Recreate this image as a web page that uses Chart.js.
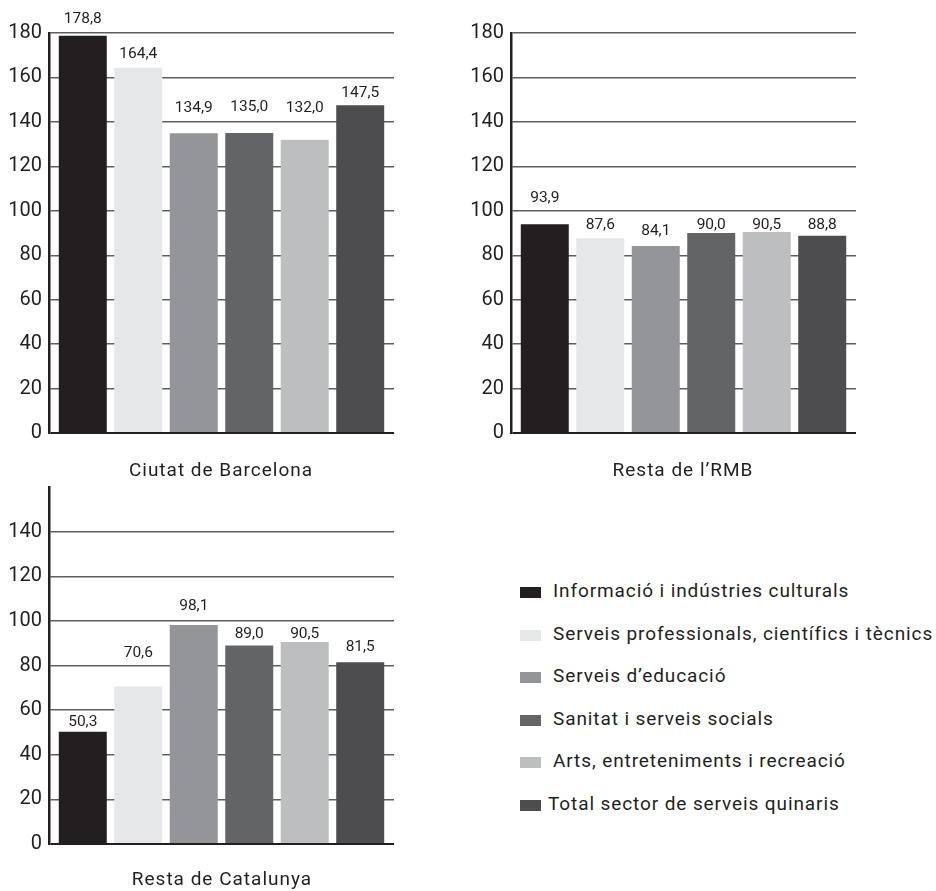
<!DOCTYPE html>
<html>
<head>
<meta charset="utf-8">
<script src="https://cdn.jsdelivr.net/npm/chart.js@4/dist/chart.umd.min.js"></script>
<style>
  html, body { margin: 0; padding: 0; background: #ffffff; }
  body { width: 936px; height: 891px; position: relative; overflow: hidden; font-family: Roboto, "Open Sans", sans-serif; color: #231f20; }
  .box { position: absolute; }
  .title { position: absolute; font-size: 19px; letter-spacing: 1px; color: #231f20; transform: translateX(-50%); white-space: nowrap; line-height: 1; }
  .leg { position: absolute; font-size: 19px; letter-spacing: 0.9px; color: #231f20; white-space: nowrap; line-height: 1; }
  .sw { position: absolute; width: 21px; height: 11px; }
</style>
</head>
<body>
<div class="box" style="left:0;top:0;width:420px;height:460px"><canvas id="c1"></canvas></div>
<div class="box" style="left:462px;top:0;width:420px;height:460px"><canvas id="c2"></canvas></div>
<div class="box" style="left:0;top:460px;width:420px;height:420px"><canvas id="c3"></canvas></div>
<div id="titles"></div>
<div id="legend"></div>
<script>
// ---- data ----
const categories = [
  "Informació i indústries culturals",
  "Serveis professionals, científics i tècnics",
  "Serveis d’educació",
  "Sanitat i serveis socials",
  "Arts, entreteniments i recreació",
  "Total sector de serveis quinaris"
];
const panelTitles = ["Ciutat de Barcelona", "Resta de l’RMB", "Resta de Catalunya"];
const barcelona = [178.8, 164.4, 134.9, 135.0, 132.0, 147.5];
const restaRMB = [93.9, 87.6, 84.1, 90.0, 90.5, 88.8];
const restaCatalunya = [50.3, 70.6, 98.1, 89.0, 90.5, 81.5];
const yTicksTop = [0, 20, 40, 60, 80, 100, 120, 140, 160, 180];
const yTicksBottom = [0, 20, 40, 60, 80, 100, 120, 140];

// ---- styles ----
const colors = ["#231f20", "#e6e7e8", "#939598", "#636466", "#bcbec0", "#4d4d4f"];
const labelOffsets = [
  [17, 13.5, 25.5, 25.5, 32, 12],
  [26, 13, 14.5, 8, 7, 11],
  [9.5, 33, 18.5, 11.5, 8, 15.5]
];
const FONT = "Roboto, 'Open Sans', sans-serif";
const INK = "#231f20";
const GRID = "#5d5e60";

const valueLabels = {
  id: 'valueLabels',
  afterDatasetsDraw(chart) {
    const ctx = chart.ctx;
    const offs = chart.options.plugins.valueLabels.offsets;
    ctx.save();
    ctx.font = "15.5px " + FONT;
    ctx.fillStyle = INK;
    ctx.textAlign = 'center';
    ctx.textBaseline = 'middle';
    chart.data.datasets.forEach((ds, i) => {
      const meta = chart.getDatasetMeta(i);
      const el = meta.data[0];
      const v = ds.data[0];
      ctx.fillText(v.toFixed(1).replace('.', ','), el.x, el.y - offs[i]);
    });
    ctx.restore();
  }
};

function makeChart(id, values, ticks, max, top, bottom, offsets) {
  const tickSet = new Set(ticks);
  new Chart(document.getElementById(id), {
    type: 'bar',
    data: {
      labels: [""],
      datasets: categories.map((c, i) => ({
        label: c,
        data: [values[i]],
        backgroundColor: colors[i],
        borderWidth: 0,
        categoryPercentage: 0.965,
        barPercentage: 0.865
      }))
    },
    options: {
      responsive: true,
      maintainAspectRatio: false,
      animation: false,
      events: [],
      layout: { padding: { left: 0, right: 26, top: top, bottom: bottom } },
      plugins: {
        legend: { display: false },
        tooltip: { enabled: false },
        title: { display: false },
        valueLabels: { offsets: offsets }
      },
      scales: {
        x: { display: false, offset: true },
        y: {
          min: 0,
          max: max,
          afterFit(scale) { scale.width = 49; },
          afterBuildTicks(scale) { scale.ticks = ticks.map(v => ({ value: v })).concat(max > ticks[ticks.length - 1] ? [{ value: max }] : []); },
          ticks: {
            padding: 7,
            color: INK,
            font: { family: FONT, size: 20 },
            callback: (v) => tickSet.has(v) ? String(v) : ''
          },
          grid: {
            drawTicks: false,
            color: (c) => tickSet.has(c.tick.value) ? (c.tick.value === 0 ? INK : GRID) : 'rgba(0,0,0,0)',
            lineWidth: (c) => c.tick.value === 0 ? 2 : 1.4
          },
          border: { display: true, color: INK, width: 2.5 }
        }
      }
    },
    plugins: [valueLabels]
  });
}

makeChart('c1', barcelona, yTicksTop, 180, 33, 27, labelOffsets[0]);
makeChart('c2', restaRMB, yTicksTop, 180, 33, 27, labelOffsets[1]);
makeChart('c3', restaCatalunya, yTicksBottom, 160, 27, 36, labelOffsets[2]);

// titles
const titlePos = [[221, 460], [683, 460], [222, 869]];
const tHost = document.getElementById('titles');
panelTitles.forEach((t, i) => {
  const d = document.createElement('div');
  d.className = 'title';
  d.textContent = t;
  d.style.left = titlePos[i][0] + 'px';
  d.style.top = titlePos[i][1] + 'px';
  tHost.appendChild(d);
});

// legend
const lHost = document.getElementById('legend');
categories.forEach((c, i) => {
  const cy = 592.5 + i * 42.6;
  const sw = document.createElement('div');
  sw.className = 'sw';
  sw.style.background = colors[i];
  sw.style.left = '520px';
  sw.style.top = (cy - 5.5) + 'px';
  lHost.appendChild(sw);
  const tx = document.createElement('div');
  tx.className = 'leg';
  tx.textContent = c;
  tx.style.left = (i === 5 ? 548 : 553) + 'px';
  tx.style.top = (cy - 11.5) + 'px';
  lHost.appendChild(tx);
});
</script>
</body>
</html>
